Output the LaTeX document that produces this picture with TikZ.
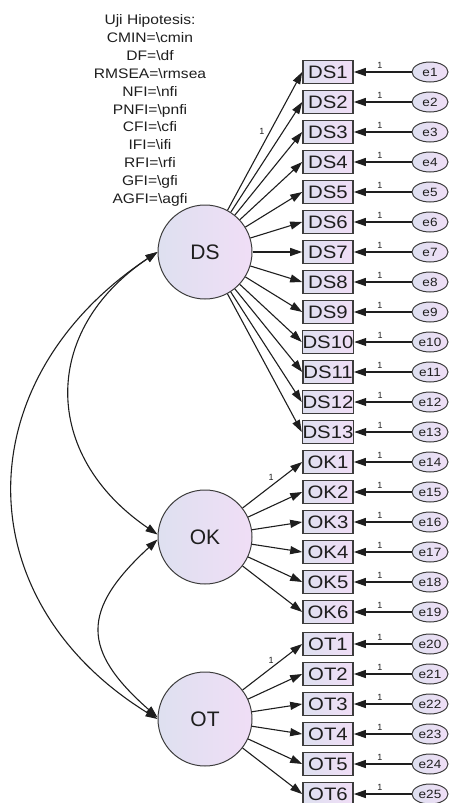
\documentclass[tikz,border=0pt]{standalone}
\usepackage{fontspec}
\setmainfont{Liberation Sans}
\newfontfamily\sfx[FakeStretch=1.13,Ligatures=NoCommon]{Liberation Sans}
\usetikzlibrary{shapes.geometric,arrows.meta}
\definecolor{lavL}{RGB}{222,224,240}
\definecolor{lavR}{RGB}{240,222,246}
\definecolor{ink}{RGB}{30,30,30}
\definecolor{edge}{RGB}{60,60,60}
\begin{document}
\begin{tikzpicture}[x=1pt,y=-1pt,
 latent/.style={circle,draw=edge,line width=1pt,minimum size=94pt,inner sep=0pt,left color=lavL,right color=lavR,text=ink,font=\fontsize{21}{24}\selectfont},
 obs/.style={rectangle,draw=edge,line width=1.6pt,minimum width=50pt,minimum height=23pt,inner sep=0pt,left color=lavL,right color=lavR,text=ink,font=\sfx\fontsize{18}{20}\selectfont},
 err/.style={ellipse,draw=edge,line width=1pt,minimum width=36pt,minimum height=20pt,inner sep=0pt,left color=lavL,right color=lavR,text=ink,font=\sfx\fontsize{12}{14}\selectfont},
 arr/.style={-{Triangle[length=12pt,width=8pt]},line width=1.1pt,draw=ink},
 cov/.style={{Triangle[length=12pt,width=8pt]}-{Triangle[length=12pt,width=8pt]},line width=1.1pt,draw=ink},
 one/.style={font=\fontsize{9}{10}\selectfont,text=ink,inner sep=1.5pt}]
\useasboundingbox (0,0) rectangle (453,803);
\node[align=center,text=ink,font=\sfx\fontsize{13.8}{17.9}\selectfont] (hyp) at (150,110.5)
 {Uji Hipotesis:\\CMIN=\textbackslash cmin\\DF=\textbackslash df\\RMSEA=\textbackslash rmsea\\NFI=\textbackslash nfi\\PNFI=\textbackslash pnfi\\CFI=\textbackslash cfi\\IFI=\textbackslash ifi\\RFI=\textbackslash rfi\\GFI=\textbackslash gfi\\AGFI=\textbackslash agfi};
\node[latent] (DS) at (205,252) {DS};
\node[latent] (OK) at (205,537) {OK};
\node[latent] (OT) at (205,719) {OT};
\foreach \i in {1,...,13}{
  \pgfmathsetmacro\yy{72+30*(\i-1)}
  \node[obs] (DS\i) at (328,\yy) {DS\i};
  \node[err] (e\i) at (430,\yy) {e\i};
  \draw[arr] (e\i) -- node[one,pos=0.55,above=1pt]{1} (DS\i);
  \draw[arr] (DS) -- (DS\i.west);
}
\foreach \i in {1,...,6}{
  \pgfmathtruncatemacro\k{13+\i}
  \pgfmathsetmacro\yy{72+30*(\k-1)}
  \node[obs] (OK\i) at (328,\yy) {OK\i};
  \node[err] (e\k) at (430,\yy) {e\k};
  \draw[arr] (e\k) -- node[one,pos=0.55,above=1pt]{1} (OK\i);
  \draw[arr] (OK) -- (OK\i.west);
}
\foreach \i in {1,...,6}{
  \pgfmathtruncatemacro\k{19+\i}
  \pgfmathsetmacro\yy{72+30*(\k-1)+2}
  \node[obs] (OT\i) at (328,\yy) {OT\i};
  \node[err] (e\k) at (430,\yy) {e\k};
  \draw[arr] (e\k) -- node[one,pos=0.55,above=1pt]{1} (OT\i);
  \draw[arr] (OT) -- (OT\i.west);
}
\path (DS) -- node[one,pos=0.57,left=4pt]{1} (DS1.west);
\path (OK) -- node[one,pos=0.55,anchor=south east]{1} (OK1.west);
\path (OT) -- node[one,pos=0.55,anchor=south east]{1} (OT1.west);
\draw[cov] (DS.west) .. controls (41,330) and (41,455) .. (OK.177);
\draw[cov] (DS.west) .. controls (-35,380) and (-35,600) .. (OT.west);
\draw[cov] (OK.183) .. controls (81,610) and (81,650) .. (OT.178);
\end{tikzpicture}
\end{document}
